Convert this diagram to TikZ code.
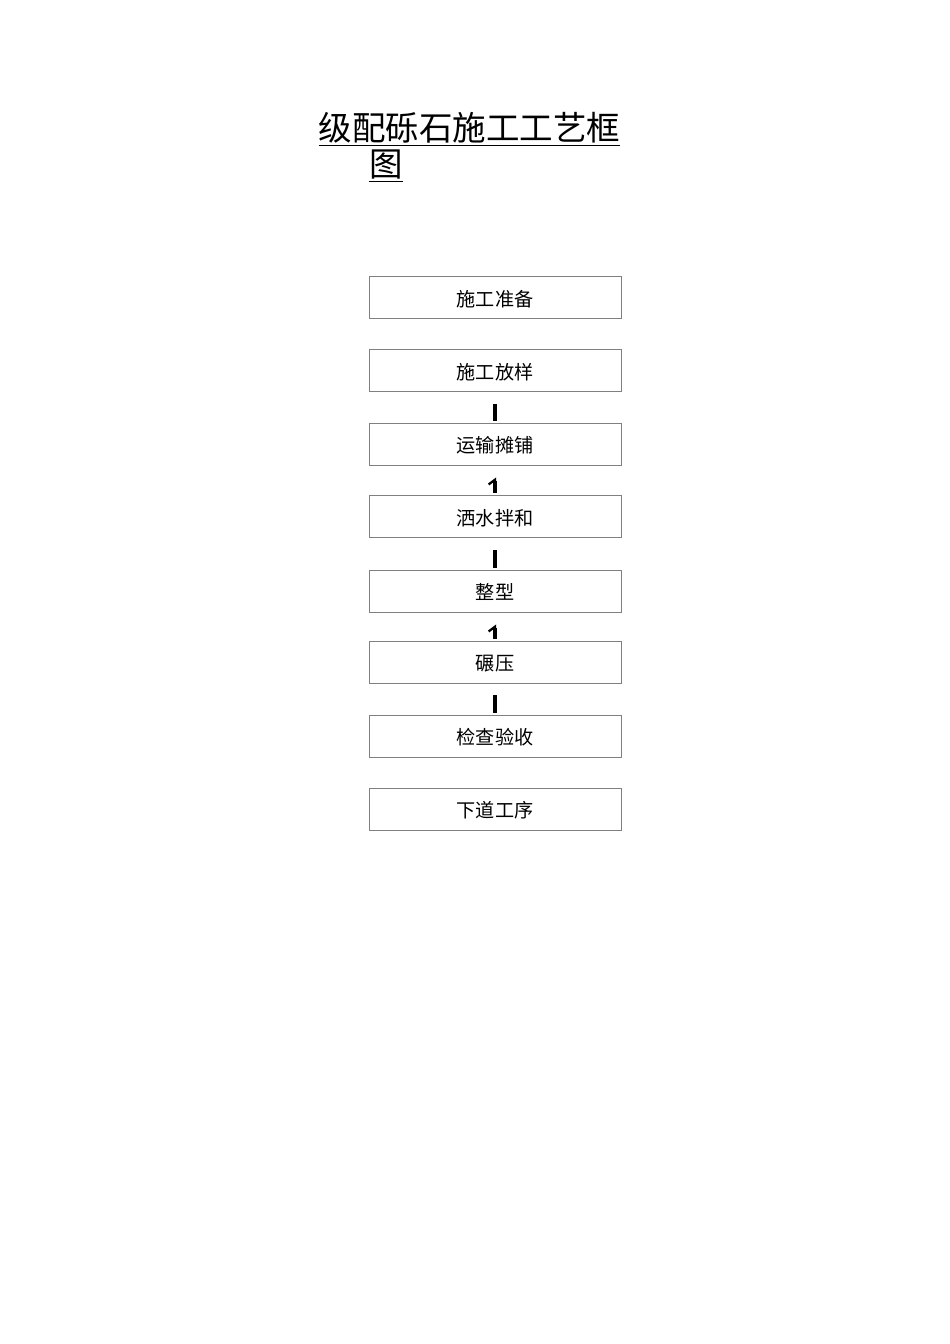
\documentclass[tikz,border=0pt]{standalone}
\usepackage{fontspec}
\setmainfont{Noto Sans CJK SC}
\usetikzlibrary{arrows.meta}
\begin{document}
\begin{tikzpicture}[x=0.6266pt,y=-0.6266pt,
	stepbox/.style={rectangle, draw=black!50, line width=0.6pt, minimum width=157.9pt, minimum height=26.3pt, inner sep=0pt, font=\fontsize{12pt}{14pt}\selectfont, text height=11pt, text depth=0pt},
	bar/.style={draw=black, line width=2.1pt, shorten <=7.5pt, shorten >=1pt},
	flagbar/.style={bar, {Straight Barb[left, length=3pt, width=8pt, line width=1.4pt]}-}]
	\useasboundingbox (0,0) rectangle (950,1344);
	\node (T1) at (469.5, 129)	[font=\fontsize{21pt}{24pt}\selectfont]	{\underline{级配砾石施工工艺框}};
	\node (T2) at (386, 166)	[font=\fontsize{21pt}{24pt}\selectfont]	{\underline{图}};
	\node (B1) at (495, 297.5)	[stepbox]	{施工准备};
	\node (B2) at (495, 370.5)	[stepbox]	{施工放样};
	\node (B3) at (495, 444)	[stepbox]	{运输摊铺};
	\node (B4) at (495, 516.5)	[stepbox]	{洒水拌和};
	\node (B5) at (495, 591)	[stepbox]	{整型};
	\node (B6) at (495, 662)	[stepbox]	{碾压};
	\node (B7) at (495, 736)	[stepbox]	{检查验收};
	\node (B8) at (495, 809)	[stepbox]	{下道工序};
	\draw[bar] (B2) -- (B3);
	\draw[flagbar] (B3) -- (B4);
	\draw[bar] (B4) -- (B5);
	\draw[flagbar] (B5) -- (B6);
	\draw[bar] (B6) -- (B7);
\end{tikzpicture}
\end{document}
